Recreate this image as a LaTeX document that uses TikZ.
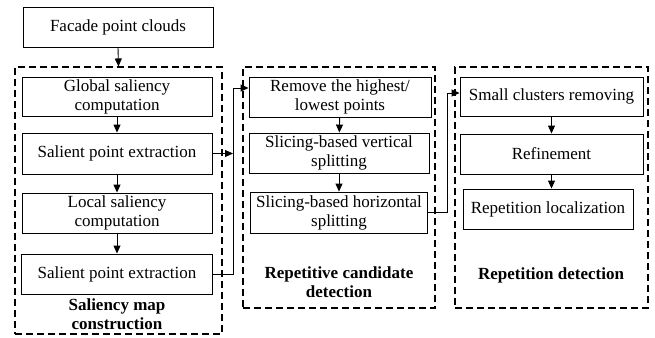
\documentclass[tikz,border=0pt]{standalone}
\usepackage{fontspec}
\setmainfont{Liberation Serif}
\usetikzlibrary{arrows.meta}
\begin{document}
\begin{tikzpicture}[x=1pt,y=-1pt,
  box/.style={draw,line width=0.9pt,inner sep=0pt,align=center,font=\fontsize{17}{19}\selectfont},
  dbox/.style={draw,line width=1.1pt,dash pattern=on 7pt off 4pt,inner sep=0pt},
  lab/.style={inner sep=0pt,align=center,font=\fontsize{17}{19}\selectfont\bfseries},
  arr/.style={line width=0.9pt,-{Triangle[length=8pt,width=7pt]}},
  ln/.style={line width=0.9pt}]
\useasboundingbox (0,0) rectangle (655,337);
\node[box,minimum width=190,minimum height=40] (fac) at (118,27) {Facade point clouds};
\node[dbox,minimum width=207,minimum height=267] (d1) at (118.5,200.5) {};
\node[box,minimum width=190,minimum height=39] (g1) at (117,96.5) {Global saliency\\computation};
\node[box,minimum width=190,minimum height=41] (s1) at (117,153.5) {Salient point extraction};
\node[box,minimum width=190,minimum height=40] (l1) at (117,213) {Local saliency\\computation};
\node[box,minimum width=191,minimum height=40] (s2) at (117,274) {Salient point extraction};
\node[lab] (lab1) at (117,314) {Saliency map\\construction};

\node[dbox,minimum width=192,minimum height=241] (d2) at (339,187.5) {};
\node[box,minimum width=182,minimum height=40] (r1) at (340,97) {Remove the highest/\\lowest points};
\node[box,minimum width=180,minimum height=40] (v1) at (339,153) {Slicing-based vertical\\splitting};
\node[box,minimum width=177,minimum height=41] (h1) at (339,212.5) {Slicing-based horizontal\\splitting};
\node[lab] (lab2) at (339,282) {Repetitive candidate\\detection};

\node[dbox,minimum width=193,minimum height=241] (d3) at (551.5,187.5) {};
\node[box,minimum width=183,minimum height=39] (sc) at (551.5,96.5) {Small clusters removing};
\node[box,minimum width=183,minimum height=40] (rf) at (551.5,154) {Refinement};
\node[box,minimum width=170,minimum height=40] (lc) at (548,209) {Repetition localization};
\node[lab] (lab3) at (551,275) {Repetition detection};

\coordinate (j1) at (233,153.5);
\coordinate (j2) at (233,274);
\coordinate (j3) at (233,88);
\coordinate (k1) at (447,212.5);
\coordinate (k2) at (447,93);

\draw[arr] (fac.south) -- (d1.north);
\draw[arr] (g1) -- (s1);
\draw[arr] (s1) -- (l1);
\draw[arr] (l1) -- (s2);
\draw[arr] (r1) -- (v1);
\draw[arr] (v1) -- (h1);
\draw[arr] (sc) -- (rf);
\draw[arr] (rf.south) -- (rf.south|-lc.north);
\draw[arr] (s1.east) -- (j1);
\draw[arr] (s2.east) -- (j2) -- (j3) -- (j3-|r1.west);
\draw[arr] (h1.east) -- (k1) -- (k2) -- (k2-|sc.west);
\end{tikzpicture}
\end{document}
